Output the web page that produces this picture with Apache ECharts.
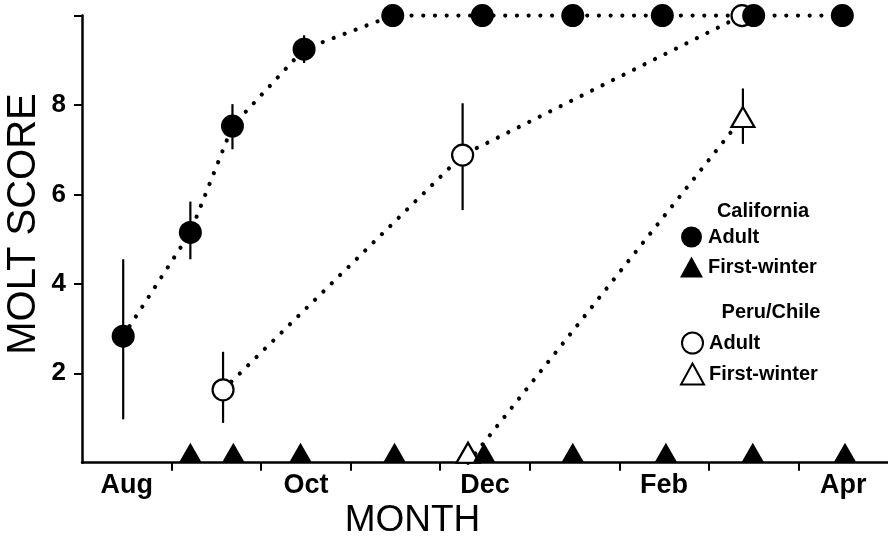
<!DOCTYPE html>
<html><head><meta charset="utf-8">
<script src="https://cdn.jsdelivr.net/npm/echarts@6/dist/echarts.min.js"></script>
<style>html,body{margin:0;padding:0;background:#fff}#c{width:888px;height:539px}</style>
</head><body><div id="c"></div>
<script>
// x values: months, Aug occupies [0,1], Sep [1,2], ... Apr [8,9]
const monthLabels = ['Aug', 'Oct', 'Dec', 'Feb', 'Apr'];
const monthLabelPos = [0.5, 2.5, 4.5, 6.5, 8.5];
const monthBoundaries = [1, 2, 3, 4, 5, 6, 7, 8];
const yTickValues = [2, 4, 6, 8, 10];
const yLabelValues = [2, 4, 6, 8];

// California adult
const caAdultX = [0.46, 1.21, 1.68, 2.48, 3.47, 4.47, 5.48, 6.48, 7.50, 8.49];
const caAdultY = [2.83, 5.15, 7.53, 9.25, 10, 10, 10, 10, 10, 10];
const caAdultErrX = [0.46, 1.21, 1.68, 2.48];
const caAdultErrLow = [0.97, 4.55, 7.01, 8.94];
const caAdultErrHigh = [4.55, 5.84, 8.02, 9.56];

// California first-winter
const caFirstX = [1.21, 1.69, 2.44, 3.49, 4.49, 5.48, 6.52, 7.49, 8.52];
const caFirstY = [0, 0, 0, 0, 0, 0, 0, 0, 0];

// Peru/Chile adult
const peAdultX = [1.575, 4.25, 7.37];
const peAdultY = [1.63, 6.88, 10];
const peAdultErrX = [1.575, 4.25];
const peAdultErrLow = [0.89, 5.65];
const peAdultErrHigh = [2.48, 8.04];

// Peru/Chile first-winter
const peFirstX = [4.31, 7.38];
const peFirstY = [0, 7.73];
const peFirstErrX = [7.38];
const peFirstErrLow = [7.13];
const peFirstErrHigh = [8.37];

const FONT = '"Liberation Sans", Arial, Helvetica, sans-serif';
const zip = (xs, ys) => xs.map((x, i) => [x, ys[i]]);
const zip3 = (xs, a, b) => xs.map((x, i) => [x, a[i], b[i]]);

const errData = zip3(caAdultErrX, caAdultErrLow, caAdultErrHigh)
  .concat(zip3(peAdultErrX, peAdultErrLow, peAdultErrHigh))
  .concat(zip3(peFirstErrX, peFirstErrLow, peFirstErrHigh));

const dotLine = { color: '#000', width: 4.2, type: [0.01, 11.7], cap: 'round' };
const TRI_OFF = [0, -10];

const chart = echarts.init(document.getElementById('c'), null, { renderer: 'canvas' });
chart.setOption({
  animation: false,
  backgroundColor: '#fff',
  textStyle: { fontFamily: FONT },
  grid: { left: 82, right: 0, top: 15.6, bottom: 76.3, containLabel: false },
  xAxis: {
    type: 'value', min: 0, max: 9,
    axisLine: { show: true, lineStyle: { color: '#000', width: 2.5 } },
    axisTick: { show: true, customValues: monthBoundaries, length: 8, lineStyle: { color: '#000', width: 2 } },
    axisLabel: {
      show: true, customValues: monthLabelPos, margin: 9,
      formatter: v => monthLabels[monthLabelPos.indexOf(v)] || '',
      color: '#000', fontSize: 27, fontWeight: 'bold', fontFamily: FONT
    },
    splitLine: { show: false }
  },
  yAxis: {
    type: 'value', min: 0, max: 10,
    axisLine: { show: true, lineStyle: { color: '#000', width: 2.5 } },
    axisTick: { show: true, customValues: yTickValues, length: 8, lineStyle: { color: '#000', width: 2 } },
    axisLabel: {
      show: true, customValues: yLabelValues, margin: 16,
      color: '#000', fontSize: 26, fontWeight: 'bold', fontFamily: FONT
    },
    splitLine: { show: false }
  },
  legend: [
    {
      left: 680, top: 226.5, orient: 'vertical', padding: 0, itemGap: 9,
      itemWidth: 23, itemHeight: 21, selectedMode: false,
      data: [{ name: 'California Adult', icon: 'circle' }, { name: 'California First-winter', icon: 'triangle' }],
      formatter: n => n.replace(/^California /, ''),
      textStyle: { color: '#000', fontSize: 20, fontWeight: 'bold', fontFamily: FONT }
    },
    {
      left: 680, top: 331.5, orient: 'vertical', padding: 0, itemGap: 8,
      itemWidth: 23, itemHeight: 21, selectedMode: false,
      data: [{ name: 'Peru/Chile Adult', icon: 'circle' }, { name: 'Peru/Chile First-winter', icon: 'triangle' }],
      formatter: n => n.replace(/^Peru\/Chile /, ''),
      textStyle: { color: '#000', fontSize: 20, fontWeight: 'bold', fontFamily: FONT }
    }
  ],
  graphic: [
    { type: 'text', x: 763, y: 211, style: { text: 'California', font: 'bold 20px ' + FONT, fill: '#000', textAlign: 'center', textVerticalAlign: 'middle' } },
    { type: 'text', x: 771, y: 312, style: { text: 'Peru/Chile', font: 'bold 20px ' + FONT, fill: '#000', textAlign: 'center', textVerticalAlign: 'middle' } },
    { type: 'text', x: 412.5, y: 521, style: { text: 'MONTH', font: '37px ' + FONT, fill: '#000', textAlign: 'center', textVerticalAlign: 'middle' } },
    { type: 'text', x: 23.5, y: 224, rotation: Math.PI / 2, style: { text: 'MOLT SCORE', font: '40px ' + FONT, fill: '#000', textAlign: 'center', textVerticalAlign: 'middle' } }
  ],
  series: [
    // dotted connecting lines
    { type: 'line', name: 'caLine', data: zip(caAdultX, caAdultY), symbol: 'none', lineStyle: dotLine, z: 2, clip: false, silent: true },
    { type: 'line', name: 'peLine', data: zip(peAdultX, peAdultY), symbol: 'none', lineStyle: dotLine, z: 2, clip: false, silent: true },
    { type: 'line', name: 'peFirstLine', data: zip(peFirstX, peFirstY), symbol: 'none', lineStyle: dotLine, z: 2, clip: false, silent: true },
    // error bars
    {
      type: 'custom', name: 'err', z: 3, clip: false, silent: true,
      data: errData, encode: { x: 0, y: [1, 2] },
      renderItem: (params, api) => {
        const p1 = api.coord([api.value(0), api.value(1)]);
        const p2 = api.coord([api.value(0), api.value(2)]);
        return { type: 'line', shape: { x1: p1[0], y1: p1[1], x2: p2[0], y2: p2[1] }, style: { stroke: '#000', lineWidth: 2.2 } };
      }
    },
    // markers
    {
      type: 'scatter', name: 'Peru/Chile Adult', z: 4, clip: false,
      data: zip(peAdultX, peAdultY), symbol: 'circle', symbolSize: 21,
      itemStyle: { color: '#fff', borderColor: '#000', borderWidth: 2.2, opacity: 1 }
    },
    {
      type: 'scatter', name: 'Peru/Chile First-winter', z: 4, clip: false,
      data: zip(peFirstX, peFirstY).map(p => p[1] === 0 ? { value: p, symbolOffset: TRI_OFF } : { value: p }),
      symbol: 'triangle', symbolSize: [23, 20],
      itemStyle: { color: '#fff', borderColor: '#000', borderWidth: 2.2, opacity: 1 }
    },
    {
      type: 'scatter', name: 'California First-winter', z: 5, clip: false,
      data: zip(caFirstX, caFirstY), symbol: 'triangle', symbolSize: [23, 20], symbolOffset: TRI_OFF,
      itemStyle: { color: '#000', opacity: 1 }
    },
    {
      type: 'scatter', name: 'California Adult', z: 5, clip: false,
      data: zip(caAdultX, caAdultY), symbol: 'circle', symbolSize: 23,
      itemStyle: { color: '#000', opacity: 1 }
    }
  ]
});
</script>
</body></html>
